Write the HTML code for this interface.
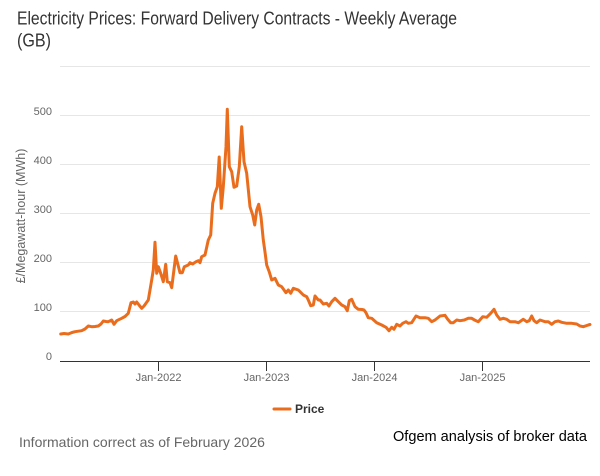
<!DOCTYPE html>
<html><head><meta charset="utf-8"><style>
html,body{margin:0;padding:0;background:#fff;}
svg{display:block;}
text{font-family:"Liberation Sans",Arial,sans-serif;}
</style></head><body>
<svg width="600" height="476" viewBox="0 0 600 476" xmlns="http://www.w3.org/2000/svg">
<rect width="600" height="476" fill="#fff"/>
<text x="17" y="24.5" font-size="18.5" fill="#333" textLength="440" lengthAdjust="spacingAndGlyphs">Electricity Prices: Forward Delivery Contracts - Weekly Average</text>
<text x="17" y="46.5" font-size="18.5" fill="#333" textLength="34" lengthAdjust="spacingAndGlyphs">(GB)</text>
<g stroke="#e6e6e6" stroke-width="1">
<line x1="60" y1="66.5" x2="590" y2="66.5"/>
<line x1="60" y1="115.5" x2="590" y2="115.5"/>
<line x1="60" y1="164.5" x2="590" y2="164.5"/>
<line x1="60" y1="213.5" x2="590" y2="213.5"/>
<line x1="60" y1="262.5" x2="590" y2="262.5"/>
<line x1="60" y1="311.5" x2="590" y2="311.5"/>
</g>
<g font-size="11" fill="#666" text-anchor="end">
<text x="52" y="115">500</text>
<text x="52" y="164">400</text>
<text x="52" y="213">300</text>
<text x="52" y="262">200</text>
<text x="52" y="311">100</text>
<text x="52" y="360">0</text>
</g>
<text transform="translate(25,216) rotate(-90)" font-size="12.5" fill="#666" text-anchor="middle">£/Megawatt-hour (MWh)</text>
<line x1="60" y1="361.5" x2="590" y2="361.5" stroke="#333" stroke-width="1"/>
<g stroke="#333" stroke-width="1">
<line x1="158.5" y1="361" x2="158.5" y2="371"/>
<line x1="266.5" y1="361" x2="266.5" y2="371"/>
<line x1="374.5" y1="361" x2="374.5" y2="371"/>
<line x1="482.5" y1="361" x2="482.5" y2="371"/>
</g>
<g font-size="11" fill="#666" text-anchor="middle">
<text x="158.5" y="381">Jan-2022</text>
<text x="266.5" y="381">Jan-2023</text>
<text x="374.5" y="381">Jan-2024</text>
<text x="482.5" y="381">Jan-2025</text>
</g>
<polyline fill="none" stroke="#ea6d1e" stroke-width="3" stroke-linejoin="round" stroke-linecap="round" points="60.7,334 64,333.5 68.3,334 72,332.5 75,331.7 81.7,330.7 85,329 88.3,326 91.7,326.7 95,326.5 98.3,326 101,324 103.3,321 106,321.5 108.3,321.7 111.7,320 114,324.3 116.7,320.7 121.7,318.3 125,316.5 128.3,313.3 131,302.7 133.3,302 135,304 136.7,302 139,305 141.7,308.3 144,306 148.3,300 151.7,280 153.3,270 155,242.3 156.7,273.3 158.3,266.7 160.7,273.3 163.3,281.7 165.7,264.3 167.3,281.7 170,282.7 171.7,287.7 175.7,256 178.3,266 180,272.7 182.3,272.7 184.3,266.7 188.3,265 190,262.7 192.7,264 196,261.7 198.3,260.7 200,262.7 201.7,256.7 205,255 208.3,240 210.7,235 212.7,203.3 215,193.3 217.3,186.7 219.2,157 221.3,208.3 223.3,186.7 226,146.7 227.3,109.3 229.3,166.7 231.7,171.7 234,187.3 236.7,186 239.3,166.7 241.7,126.7 244,161.7 246.7,173.3 250,206.7 252.7,215 254.7,225 256.7,210 258.7,204.3 261,216.7 263.3,240 265,252 266.7,265 269.3,272 271.7,280 275,278.3 278.3,285 281.7,286.7 286,292.7 288.3,290 290.7,293.3 293.3,288.3 298.3,290 300,291.7 303.3,295 306.7,296.7 308.3,300 310.7,305.7 313.3,305 315,296 318.3,300 320,300 323.3,304 326.7,303.3 329,306 331.7,301.7 335,298.3 338.3,301.7 341.7,305 345,306.7 347.3,310.7 349.3,300.7 351.7,299.3 355,306.7 358.3,309.3 362,309.5 364,310 366,312.7 368.3,317.7 371.7,318.3 376.7,322.7 381.7,325 386,327.3 389,330.7 391.7,327.3 394,329.3 396.7,324.3 400,326 402.7,323.3 406,321.7 408.3,323.3 411.7,322.7 416,316 420,317.7 425,317.7 428.3,318.3 431.7,321.7 435,320 440,316 445,315.3 447.7,319.3 450.7,322.7 453.3,322.7 456.7,320 460,320.7 464.3,320 468.3,318.3 471.7,318.3 475,320.3 478.3,321.7 482.7,316.7 486.7,317.3 490.7,313.3 494,309.3 496.7,315 500,319.3 503.3,318.3 506.7,319.3 510,321.7 515,321.7 518.3,322.7 523.3,319.3 526.7,321.7 529.3,320.7 531.7,316 534,320.7 536.7,322.7 540,320 545,321.7 548.3,321.7 551.7,324.3 555,321.7 558.3,321 561.7,322.3 566.7,323.3 571.7,323.3 576.7,324 580,326 583.3,326.7 588.3,325 590,324.5"/>
<line x1="274" y1="409" x2="290" y2="409" stroke="#ea6d1e" stroke-width="3" stroke-linecap="round"/>
<text x="295" y="413" font-size="12" font-weight="bold" fill="#333">Price</text>
<text x="19" y="447" font-size="14" fill="#666">Information correct as of February 2026</text>
<text x="393" y="441" font-size="14.3" fill="#000" textLength="194" lengthAdjust="spacingAndGlyphs">Ofgem analysis of broker data</text>
</svg>
</body></html>
